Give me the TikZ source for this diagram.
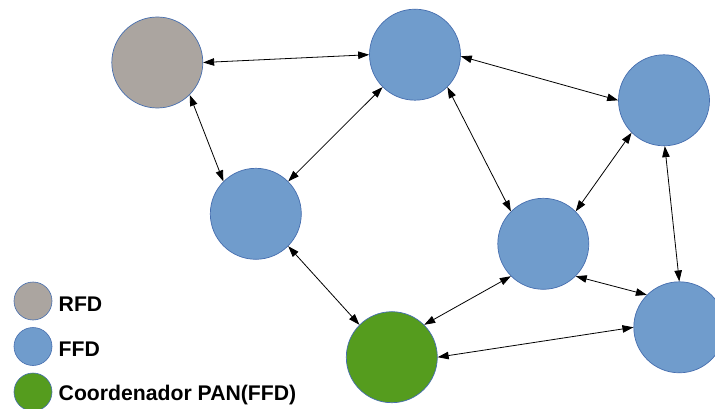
\documentclass[tikz,border=0pt]{standalone}
\usepackage{fontspec}
\setmainfont{Liberation Sans}
\usetikzlibrary{arrows.meta}
\definecolor{rfdgray}{RGB}{171,165,160}
\definecolor{ffdblue}{RGB}{112,156,204}
\definecolor{pangreen}{RGB}{85,156,30}
\definecolor{rimblue}{RGB}{70,110,175}
\tikzset{
  device/.style={circle, draw=rimblue, line width=0.7pt, inner sep=0pt, minimum size=91pt},
  rfd/.style={device, fill=rfdgray},
  ffd/.style={device, fill=ffdblue},
  coord/.style={device, fill=pangreen},
  keydot/.style={circle, draw=rimblue, line width=0.6pt, inner sep=0pt, minimum size=38pt},
  keytext/.style={anchor=base west, inner sep=0pt, font=\bfseries\fontsize{21.2}{24}\selectfont},
  link/.style={line width=0.8pt, {Triangle[length=11pt,width=7.5pt]}-{Triangle[length=11pt,width=7.5pt]}}
}
\begin{document}
\begin{tikzpicture}[x=1pt,y=-1pt]
  \useasboundingbox (0,0) rectangle (715,409);
  \clip (0,0) rectangle (715,409);
  \fill[white] (0,0) rectangle (715,409);

  % devices
  \node[rfd]   (r)  at (157.3,62.5) {};
  \node[ffd]   (fa) at (415,54.7) {};
  \node[ffd]   (fb) at (664,100.3) {};
  \node[ffd]   (fc) at (255.8,213.8) {};
  \node[ffd]   (fd) at (543.3,243.8) {};
  \node[ffd]   (fe) at (679.3,327.3) {};
  \node[coord] (pc) at (391.8,357.2) {};

  % links
  \draw[link] (r.0)    -- (fa.180);
  \draw[link] (r.-45)  -- (fc.135);
  \draw[link] (fc.45)  -- (fa.-135);
  \draw[link] (fc.-45) -- (pc.135);
  \draw[link] (fa.-2)  -- (fb.180);
  \draw[link] (fa.-45) -- (fd.135);
  \draw[link] (fd.45)  -- (fb.-135);
  \draw[link] (fb.-89) -- (fe.90);
  \draw[link] (fd.-45) -- (fe.135);
  \draw[link] (pc.45)  -- (fd.-135);
  \draw[link] (pc.0)   -- (fe.180);

  % key
  \node[keydot, fill=rfdgray]  (k1) at (33,301) {};
  \node[keydot, fill=ffdblue]  (k2) at (33,346.5) {};
  \node[keydot, fill=pangreen] (k3) at (33,392) {};
  \node[keytext] (t1) at (58.5,311) {RFD};
  \node[keytext] (t2) at (58.5,356) {FFD};
  \node[keytext] (t3) at (58.5,400) {Coordenador PAN(FFD)};
\end{tikzpicture}
\end{document}
